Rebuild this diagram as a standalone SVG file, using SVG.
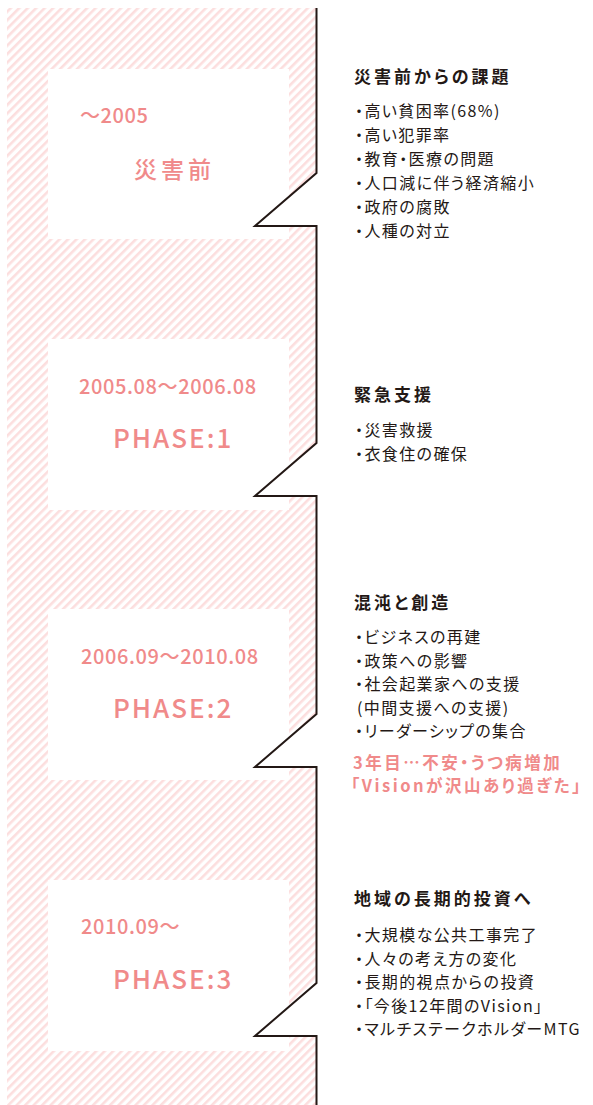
<svg xmlns="http://www.w3.org/2000/svg" width="593" height="1105" viewBox="0 0 593 1105">
<defs>
<pattern id="hatch" patternUnits="userSpaceOnUse" width="6" height="6" patternTransform="rotate(45)">
<rect x="0" y="0" width="2.6" height="6" fill="#fcdede"/>
</pattern>
<style>
text{font-family:"Noto Sans CJK JP","Noto Sans CJK SC",sans-serif}
.box{fill:#ffffff}
.pk{fill:#f08a8a}
.date{font-size:20px;letter-spacing:0.6px;font-weight:500}
.phase{font-size:26px;letter-spacing:2px;font-weight:500}
.big{font-size:23px;letter-spacing:4px;font-weight:500}
.h{font-size:17px;font-weight:700;letter-spacing:3px;fill:#231815;font-feature-settings:"palt"}
.it{font-size:16px;letter-spacing:1.4px;fill:#231815;font-feature-settings:"palt"}
.note{font-size:16.5px;font-weight:700;letter-spacing:2.5px;fill:#f08a8a;font-feature-settings:"palt"}
.tl{fill:none;stroke:#231815;stroke-width:2;stroke-linejoin:miter}
</style>
</defs>
<rect width="593" height="1105" fill="#ffffff"/>
<g id="background">
<path d="M7,8 H316.5 V173 L255,226 H316.5 V443 L255,496 H316.5 V714 L255,767 H316.5 V983 L255,1036 H316.5 V1105 H7 Z" fill="url(#hatch)"/>
</g>
<g id="node-before">
<rect class="box" x="48" y="69" width="241" height="170"/>
<text class="pk date" x="80" y="123">〜2005</text>
<text class="pk big" x="134" y="178">災害前</text>
</g>
<g id="node-phase1">
<rect class="box" x="48" y="339" width="241" height="171"/>
<text class="pk date" x="79" y="394">2005.08〜2006.08</text>
<text class="pk phase" x="113" y="448">PHASE:1</text>
</g>
<g id="node-phase2">
<rect class="box" x="48" y="609" width="241" height="171"/>
<text class="pk date" x="81" y="664">2006.09〜2010.08</text>
<text class="pk phase" x="113" y="718">PHASE:2</text>
</g>
<g id="node-phase3">
<rect class="box" x="48" y="880" width="241" height="171"/>
<text class="pk date" x="81" y="934">2010.09〜</text>
<text class="pk phase" x="113" y="989">PHASE:3</text>
</g>
<g id="connectors">
<path class="tl" d="M316.5,8 V173 L255,226 H316.5 V443 L255,496 H316.5 V714 L255,767 H316.5 V983 L255,1036 H316.5 V1105"/>
</g>
<g id="info-before">
<text class="h" x="354" y="83">災害前からの課題</text>
<text class="it" x="355" y="117">・高い貧困率(68%)</text>
<text class="it" x="355" y="141">・高い犯罪率</text>
<text class="it" x="355" y="165">・教育・医療の問題</text>
<text class="it" x="355" y="189">・人口減に伴う経済縮小</text>
<text class="it" x="355" y="213">・政府の腐敗</text>
<text class="it" x="355" y="237">・人種の対立</text>
</g>
<g id="info-phase1">
<text class="h" x="354" y="401">緊急支援</text>
<text class="it" x="355" y="436">・災害救援</text>
<text class="it" x="355" y="460">・衣食住の確保</text>
</g>
<g id="info-phase2">
<text class="h" x="354" y="609">混沌と創造</text>
<text class="it" x="355" y="643">・ビジネスの再建</text>
<text class="it" x="355" y="666.5">・政策への影響</text>
<text class="it" x="355" y="690">・社会起業家への支援</text>
<text class="it" x="357" y="713.5">(中間支援への支援)</text>
<text class="it" x="355" y="737">・リーダーシップの集合</text>
<text class="note" x="353" y="769">3年目…不安・うつ病増加</text>
<text class="note" x="351" y="792">「Visionが沢山あり過ぎた」</text>
</g>
<g id="info-phase3">
<text class="h" x="354" y="905">地域の長期的投資へ</text>
<text class="it" x="355" y="941">・大規模な公共工事完了</text>
<text class="it" x="355" y="964.5">・人々の考え方の変化</text>
<text class="it" x="355" y="988">・長期的視点からの投資</text>
<text class="it" x="355" y="1011.5">・「今後12年間のVision」</text>
<text class="it" x="355" y="1035">・マルチステークホルダーMTG</text>
</g>
</svg>
